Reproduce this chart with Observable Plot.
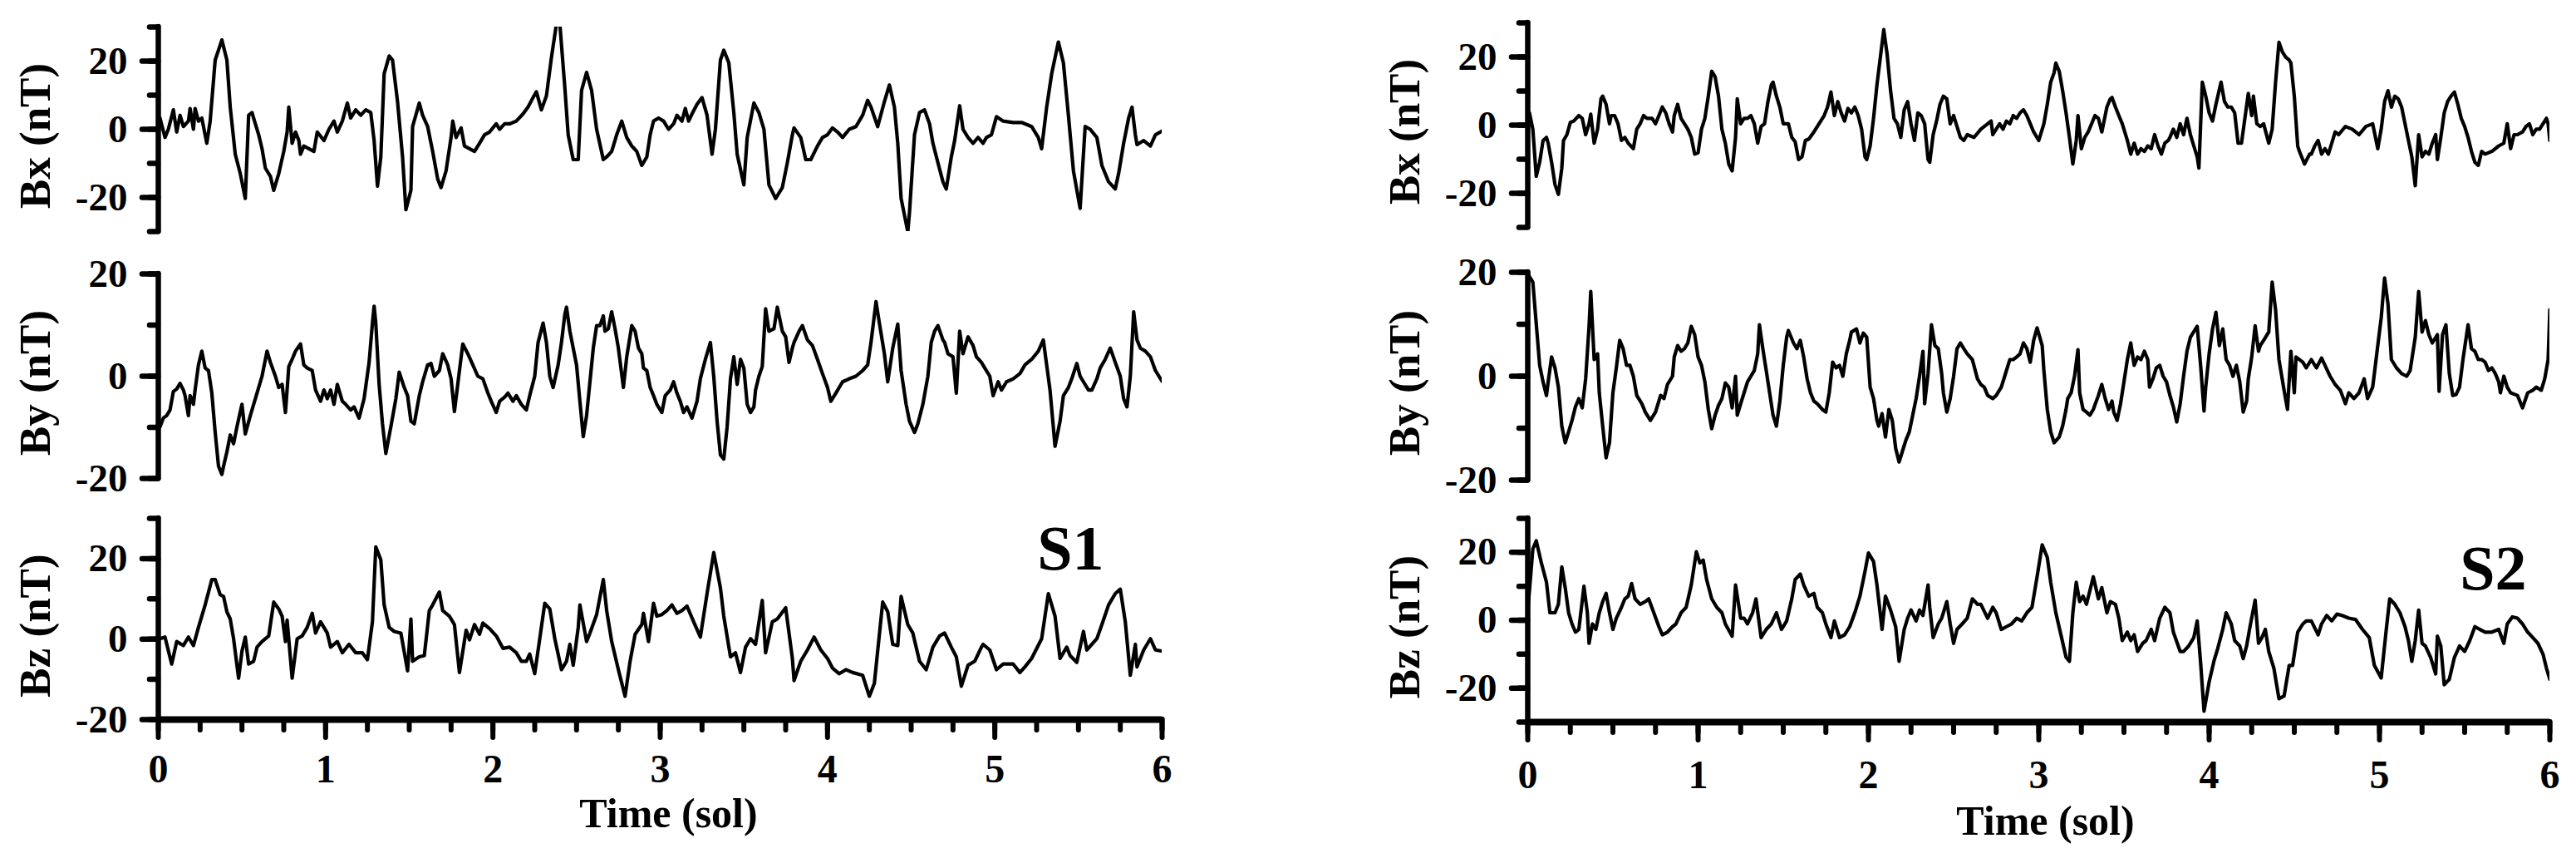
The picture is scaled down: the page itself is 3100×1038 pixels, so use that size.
<!DOCTYPE html>
<html><head><meta charset="utf-8">
<script src="https://cdn.jsdelivr.net/npm/d3@7"></script>
<script src="https://cdn.jsdelivr.net/npm/@observablehq/plot@0.6"></script>
<style>
html,body{margin:0;padding:0;background:#fff;}
#wrap{position:relative;width:3100px;height:1038px;overflow:hidden;background:#fff;}
.pn{position:absolute;}
</style></head><body><div id="wrap"></div>
<script>
// ---- data: [time (sol), field (nT)] ----
const s1Bx = [[0.01,3.3],[0.04,-2.4],[0.06,0],[0.09,5.7],[0.11,-0.8],[0.13,4.1],[0.15,0.8],[0.18,2.4],[0.19,6.1],[0.21,0],[0.22,6.1],[0.24,2.4],[0.26,3.3],[0.29,-4.1],[0.31,2.4],[0.34,20.3],[0.38,26.2],[0.41,20.3],[0.43,6.5],[0.46,-7.3],[0.49,-13],[0.52,-20.3],[0.54,4.1],[0.56,4.9],[0.58,1.6],[0.60,-1.6],[0.62,-5.7],[0.64,-11.4],[0.67,-13.8],[0.69,-17.9],[0.72,-13],[0.75,-6.5],[0.77,-0.8],[0.78,6.5],[0.80,-4.1],[0.82,-0.8],[0.84,-3.3],[0.85,-7.3],[0.87,-4.9],[0.90,-5.7],[0.93,-6.5],[0.95,-0.8],[0.99,-3.3],[1.02,0],[1.05,2.4],[1.07,-0.8],[1.10,2.4],[1.13,7.7],[1.15,3.3],[1.18,5.7],[1.21,4.1],[1.24,5.7],[1.27,4.9],[1.29,-3.3],[1.31,-16.7],[1.33,-8.1],[1.35,16.3],[1.38,21.5],[1.40,20.3],[1.43,8.1],[1.46,-8.1],[1.48,-23.6],[1.51,-17.9],[1.52,0.8],[1.56,7.7],[1.58,4.1],[1.61,0.8],[1.64,-6.5],[1.67,-14.6],[1.69,-17.1],[1.72,-12.2],[1.75,-2.4],[1.76,2.4],[1.78,-2.4],[1.81,0.4],[1.83,-4.9],[1.86,-5.7],[1.89,-6.5],[1.92,-4.1],[1.95,-1.6],[1.98,-0.8],[2.02,1.6],[2.04,0],[2.07,1.6],[2.10,1.6],[2.14,2.4],[2.18,4.5],[2.21,6.5],[2.24,9.3],[2.26,11],[2.29,5.7],[2.32,9.8],[2.35,21.1],[2.38,31],[2.40,31],[2.43,12.2],[2.45,-1.6],[2.48,-8.9],[2.51,-8.9],[2.53,11.4],[2.56,16.7],[2.59,11.4],[2.62,0],[2.66,-8.9],[2.68,-8.1],[2.71,-6.5],[2.74,-1.6],[2.77,2.4],[2.80,-2.4],[2.83,-4.9],[2.86,-6.5],[2.89,-10.6],[2.92,-8.1],[2.94,-1.6],[2.96,2.4],[2.99,3.3],[3.02,2.4],[3.05,0],[3.08,1.6],[3.10,4.1],[3.13,2.4],[3.15,6.1],[3.17,2.4],[3.19,4.5],[3.22,7.3],[3.25,9.3],[3.28,4.1],[3.31,-7.3],[3.33,0],[3.36,20.3],[3.38,23.2],[3.41,19.5],[3.44,4.9],[3.46,-7.3],[3.50,-16.3],[3.52,-2.4],[3.56,7.7],[3.59,4.9],[3.62,0],[3.65,-16.3],[3.69,-20.3],[3.73,-17.1],[3.76,-9.8],[3.79,-1.6],[3.80,0.4],[3.84,-2.4],[3.87,-8.9],[3.90,-8.9],[3.94,-4.9],[3.97,-2.4],[4.00,-1.6],[4.03,0.4],[4.06,-0.8],[4.09,-2.4],[4.13,0],[4.17,0.8],[4.21,4.1],[4.24,8.5],[4.26,6.5],[4.30,0.8],[4.34,8.1],[4.37,13],[4.40,6.5],[4.42,-4.1],[4.44,-20.3],[4.48,-30.1],[4.49,-24.4],[4.52,-1.6],[4.55,4.9],[4.58,5.7],[4.61,1.6],[4.63,-4.1],[4.66,-9.8],[4.69,-15.4],[4.71,-17.5],[4.74,-8.1],[4.76,-3.3],[4.79,6.9],[4.81,0],[4.84,-2.4],[4.87,-4.1],[4.90,-2.4],[4.93,-4.1],[4.95,-2.4],[4.98,-1.6],[5.01,3.7],[5.05,2.4],[5.11,2],[5.16,2],[5.22,0.8],[5.26,-2.4],[5.28,-5.7],[5.31,6.5],[5.34,16.3],[5.38,25.6],[5.41,19.5],[5.44,4.1],[5.47,-12.2],[5.51,-23.2],[5.54,0.8],[5.57,0],[5.61,-2.4],[5.64,-10.6],[5.68,-15.4],[5.72,-17.5],[5.74,-13],[5.77,-4.1],[5.80,3.3],[5.82,6.5],[5.84,-1.6],[5.85,-4.5],[5.89,-3.3],[5.93,-4.9],[5.96,-1.6],[6.0,-0.5]];

const s1By = [[0.01,-9.9],[0.03,-8.2],[0.05,-7.7],[0.07,-6.6],[0.09,-3.0],[0.11,-2.5],[0.13,-1.4],[0.15,-2.7],[0.16,-3.8],[0.18,-7.7],[0.19,-3.8],[0.21,-5.5],[0.22,-2.7],[0.24,2.2],[0.26,4.9],[0.28,1.6],[0.30,1.1],[0.32,-3.3],[0.34,-11],[0.36,-17.6],[0.38,-19.2],[0.39,-17.6],[0.41,-14.8],[0.43,-11.5],[0.45,-13.2],[0.47,-9.9],[0.50,-5.5],[0.52,-11.3],[0.55,-7.7],[0.57,-5.5],[0.59,-3.3],[0.62,0],[0.65,4.9],[0.67,2.7],[0.70,0],[0.72,-2.2],[0.74,-1.6],[0.76,-7.1],[0.78,1.9],[0.80,3.3],[0.82,4.9],[0.85,6.3],[0.87,2.2],[0.89,1.6],[0.92,1.1],[0.94,-2.7],[0.97,-4.9],[0.99,-2.7],[1.01,-4.4],[1.03,-2.7],[1.05,-5.5],[1.07,-1.6],[1.10,-4.9],[1.12,-5.5],[1.15,-6.6],[1.17,-6.0],[1.20,-8.2],[1.23,-4.4],[1.26,2.7],[1.28,10.4],[1.29,13.7],[1.30,10.4],[1.32,-1.6],[1.34,-9.3],[1.36,-15.1],[1.39,-9.9],[1.42,-4.4],[1.44,0.8],[1.47,-2.2],[1.49,-3.8],[1.51,-8.8],[1.53,-9.3],[1.56,-3.8],[1.58,-1.1],[1.61,2.2],[1.63,2.5],[1.65,0],[1.68,1.1],[1.70,4.4],[1.73,2.2],[1.75,-0.5],[1.77,-6.9],[1.80,1.1],[1.82,6.3],[1.85,4.4],[1.88,2.2],[1.91,0],[1.94,-0.5],[1.97,-3.3],[1.99,-4.9],[2.02,-7.1],[2.04,-4.9],[2.07,-4.1],[2.09,-3.3],[2.12,-4.9],[2.14,-3.8],[2.17,-5.5],[2.20,-6.6],[2.22,-3.8],[2.25,0],[2.27,6.6],[2.30,10.4],[2.32,6.6],[2.34,0],[2.36,-2.2],[2.39,2.2],[2.41,6.6],[2.43,12.1],[2.44,13.5],[2.46,8.8],[2.48,5.5],[2.50,2.2],[2.52,-4.9],[2.54,-11.8],[2.56,-7.7],[2.58,-1.1],[2.60,5.5],[2.62,9.9],[2.64,9.9],[2.66,11.8],[2.67,8.8],[2.69,9.3],[2.71,12.6],[2.73,9.3],[2.75,5.5],[2.78,-2.2],[2.80,3.8],[2.83,9.9],[2.85,8.8],[2.87,5.5],[2.89,4.4],[2.90,1.6],[2.92,1.1],[2.94,-2.2],[2.96,-3.8],[2.98,-5.5],[3.01,-7.1],[3.03,-3.8],[3.06,-2.7],[3.08,-1.1],[3.10,-3.3],[3.12,-4.9],[3.14,-7.1],[3.16,-6.0],[3.19,-8.2],[3.22,-4.9],[3.24,-0.5],[3.27,3.3],[3.30,6.6],[3.32,0],[3.34,-8.8],[3.36,-15.4],[3.38,-16.2],[3.40,-9.9],[3.42,-0.5],[3.44,3.8],[3.46,-1.6],[3.48,3.3],[3.50,1.6],[3.52,-5.5],[3.54,-7.1],[3.56,-6.0],[3.57,-2.7],[3.59,0],[3.61,1.9],[3.63,13.2],[3.65,8.8],[3.68,9.3],[3.70,13.5],[3.73,8.8],[3.75,7.7],[3.77,2.7],[3.79,5.5],[3.80,6.6],[3.83,8.8],[3.85,9.9],[3.88,7.1],[3.91,6.0],[3.94,3.3],[3.97,0.5],[4.00,-2.2],[4.02,-4.9],[4.05,-3.3],[4.07,-2.2],[4.09,-1.1],[4.13,-0.5],[4.17,0],[4.21,1.1],[4.24,2.2],[4.26,6.6],[4.29,14.6],[4.31,10.4],[4.34,4.4],[4.36,-1.1],[4.39,5.5],[4.42,10.2],[4.44,1.1],[4.47,-5.5],[4.49,-8.8],[4.52,-11],[4.54,-9.3],[4.57,-5.5],[4.60,0],[4.62,6.6],[4.64,8.8],[4.66,9.9],[4.69,7.1],[4.70,6.6],[4.72,4.4],[4.75,3.8],[4.77,-3.3],[4.79,8.8],[4.81,4.4],[4.84,7.7],[4.87,6.0],[4.89,3.8],[4.92,2.7],[4.94,1.6],[4.97,0],[4.99,-3.8],[5.02,-1.1],[5.04,-2.7],[5.07,-1.1],[5.11,-0.5],[5.15,0.5],[5.18,2.2],[5.22,3.3],[5.26,4.9],[5.29,7.1],[5.31,2.2],[5.33,-2.7],[5.36,-13.7],[5.39,-8.8],[5.41,-3.8],[5.44,-2.2],[5.46,-0.5],[5.49,2.5],[5.51,0],[5.53,-1.1],[5.56,-2.7],[5.58,-2.7],[5.61,-0.5],[5.63,1.6],[5.66,3.3],[5.69,5.5],[5.72,2.7],[5.75,0],[5.77,-4.4],[5.79,-6.0],[5.81,0],[5.83,12.6],[5.85,7.1],[5.87,5.5],[5.90,4.9],[5.93,3.8],[5.96,1.1],[6.0,-1]];

const s1Bz = [[0.01,0.1],[0.04,0.5],[0.08,-6.2],[0.11,-0.6],[0.15,-1.6],[0.18,0.5],[0.21,-1.6],[0.24,2.9],[0.28,8.5],[0.32,14.8],[0.34,14.8],[0.37,11.0],[0.39,10.6],[0.41,6.8],[0.43,5.0],[0.45,0.1],[0.48,-9.7],[0.50,-3.0],[0.52,0.5],[0.54,-6.2],[0.57,-5.5],[0.59,-2.0],[0.62,-0.6],[0.66,0.8],[0.69,9.2],[0.72,7.5],[0.74,5.7],[0.76,-0.6],[0.77,4.7],[0.80,-9.7],[0.83,0.1],[0.86,0.8],[0.89,2.9],[0.92,6.4],[0.94,1.5],[0.97,4.3],[1.01,1.5],[1.03,-2.0],[1.07,-0.6],[1.10,-3.4],[1.14,-1.3],[1.18,-3.4],[1.22,-3.4],[1.25,-5.1],[1.28,4.3],[1.30,22.9],[1.33,19.7],[1.35,8.5],[1.38,2.9],[1.41,1.9],[1.45,1.5],[1.49,-7.9],[1.51,5.0],[1.52,-5.5],[1.56,-4.4],[1.59,-4.1],[1.62,7.1],[1.64,8.5],[1.68,11.7],[1.70,7.1],[1.74,5.7],[1.77,3.6],[1.80,-8.3],[1.84,2.2],[1.86,-0.2],[1.89,3.6],[1.92,1.2],[1.94,4.0],[1.98,2.6],[2.02,0.8],[2.06,-2.3],[2.10,-2.0],[2.14,-3.4],[2.17,-5.5],[2.20,-5.5],[2.22,-3.7],[2.25,-8.6],[2.28,0.1],[2.31,8.9],[2.34,7.5],[2.37,0.1],[2.41,-7.6],[2.44,-5.5],[2.46,-1.3],[2.48,-6.5],[2.51,2.9],[2.52,8.5],[2.56,-0.6],[2.58,1.5],[2.62,6.1],[2.66,14.8],[2.68,7.1],[2.71,-0.6],[2.75,-7.6],[2.79,-14.2],[2.82,-5.5],[2.85,1.2],[2.89,3.6],[2.90,6.4],[2.93,-0.6],[2.96,8.9],[2.98,5.7],[3.01,6.1],[3.04,7.1],[3.07,8.5],[3.10,6.4],[3.13,7.1],[3.16,8.2],[3.20,4.3],[3.24,0.5],[3.28,11.3],[3.32,21.5],[3.36,12.7],[3.38,5.7],[3.42,-4.4],[3.45,-3.4],[3.48,-8.3],[3.51,-2.0],[3.54,0.1],[3.57,-1.3],[3.61,9.6],[3.63,-3.4],[3.67,4.3],[3.70,5.0],[3.75,7.8],[3.79,-4.8],[3.80,-10.3],[3.84,-5.5],[3.88,-2.7],[3.92,0.5],[3.96,-2.7],[4.00,-4.8],[4.03,-7.2],[4.07,-8.6],[4.11,-7.6],[4.15,-8.3],[4.21,-9.0],[4.25,-14.2],[4.28,-11.0],[4.33,9.2],[4.36,6.8],[4.39,-1.3],[4.42,-1.6],[4.44,10.6],[4.48,3.6],[4.51,1.5],[4.55,-5.5],[4.59,-7.6],[4.63,-2.0],[4.67,0.8],[4.70,1.5],[4.74,-2.0],[4.77,-4.4],[4.80,-11.7],[4.84,-6.5],[4.88,-5.5],[4.92,-2.0],[4.93,-1.3],[4.97,-2.7],[5.01,-7.6],[5.05,-6.2],[5.11,-6.2],[5.15,-8.3],[5.18,-6.9],[5.22,-4.8],[5.28,0.1],[5.32,11.3],[5.36,5.7],[5.39,-4.8],[5.43,-2.0],[5.45,-4.1],[5.49,-5.8],[5.53,1.9],[5.55,-2.7],[5.61,0.1],[5.64,3.6],[5.68,8.5],[5.72,11.3],[5.75,12.4],[5.78,4.3],[5.81,-9.0],[5.84,-1.3],[5.85,-6.9],[5.89,-2.7],[5.93,0.1],[5.96,-2.7],[6.0,-3]];

const s2Bx = [[0.01,3.6],[0.03,-1.2],[0.05,-15],[0.07,-10.9],[0.09,-4.5],[0.11,-3.6],[0.12,-5.3],[0.14,-10.9],[0.16,-17.4],[0.18,-20.3],[0.20,-12.6],[0.21,-4.5],[0.23,-2.8],[0.25,0.8],[0.27,1.2],[0.30,2.8],[0.32,2],[0.34,-2.8],[0.36,0.4],[0.37,3.2],[0.39,-5.3],[0.41,-1.2],[0.43,7.7],[0.44,8.5],[0.46,6.1],[0.48,0.4],[0.49,2.8],[0.51,2.8],[0.53,0.4],[0.55,-4.5],[0.57,-3.6],[0.59,-5.3],[0.62,-6.9],[0.64,-1.2],[0.66,0.4],[0.68,2.8],[0.70,2],[0.73,2],[0.75,0.4],[0.77,2.8],[0.79,5.3],[0.81,3.6],[0.83,0.4],[0.85,-2],[0.86,2.8],[0.88,6.1],[0.90,2],[0.92,0.4],[0.94,-1.2],[0.96,-3.6],[0.98,-8.5],[1.00,-8.1],[1.02,-1.2],[1.04,2],[1.06,8.5],[1.08,15.8],[1.10,14.2],[1.12,8.5],[1.14,-1.2],[1.16,-5.3],[1.18,-11.4],[1.20,-13.4],[1.22,-3.6],[1.23,7.7],[1.25,0.4],[1.27,2],[1.29,2],[1.31,2.8],[1.33,0.4],[1.35,-5.3],[1.37,-0.4],[1.39,0.4],[1.41,6.9],[1.43,11.8],[1.44,12.6],[1.46,8.5],[1.48,5.3],[1.50,0.4],[1.53,0.4],[1.55,-3.6],[1.57,-4.9],[1.59,-10.1],[1.61,-9.3],[1.63,-4.5],[1.65,-4.1],[1.68,-2],[1.71,0.4],[1.74,2.8],[1.76,5.3],[1.78,9.7],[1.80,2.8],[1.82,6.9],[1.84,3.6],[1.86,1.2],[1.88,4.9],[1.90,3.6],[1.92,5.3],[1.94,2.8],[1.96,-1.2],[1.98,-9.3],[1.99,-10.1],[2.01,-6.1],[2.03,2],[2.05,11.8],[2.07,19.9],[2.09,28],[2.11,20.7],[2.13,10.1],[2.15,2],[2.17,0.4],[2.19,-3.6],[2.21,4.5],[2.23,6.9],[2.25,0.4],[2.27,-4.5],[2.29,3.6],[2.31,2.8],[2.33,0.4],[2.35,-10.1],[2.36,-10.9],[2.38,-2.8],[2.40,1.2],[2.42,6.1],[2.44,8.5],[2.46,7.7],[2.48,0.4],[2.50,2.8],[2.52,-0.4],[2.54,-3.6],[2.56,-4.5],[2.58,-2.8],[2.62,-3.6],[2.66,-1.2],[2.70,0.4],[2.72,1.2],[2.73,-2.8],[2.75,-1.2],[2.77,0.4],[2.79,-1.2],[2.81,1.2],[2.83,0.4],[2.85,2.8],[2.87,2],[2.89,3.6],[2.91,4.5],[2.93,2.8],[2.95,0.4],[2.97,-2],[3.00,-4.5],[3.03,0.4],[3.05,6.1],[3.07,12.6],[3.09,15.4],[3.10,18.2],[3.12,15.8],[3.14,10.1],[3.16,3.6],[3.18,-3.6],[3.20,-11.4],[3.22,-4.5],[3.23,2.8],[3.25,-6.9],[3.27,-3.6],[3.29,-2],[3.31,0.4],[3.33,2.8],[3.35,2],[3.37,-2],[3.38,0.4],[3.40,5.3],[3.42,7.7],[3.43,8.1],[3.45,5.3],[3.47,2.8],[3.49,0.4],[3.52,-4.5],[3.54,-8.5],[3.56,-5.3],[3.58,-8.5],[3.60,-6.9],[3.62,-7.7],[3.64,-6.1],[3.66,-6.9],[3.68,-2.8],[3.70,-6.1],[3.72,-8.5],[3.74,-5.3],[3.76,-4.5],[3.77,-3.6],[3.79,-1.2],[3.81,-3.6],[3.83,0.4],[3.85,-2.8],[3.87,2],[3.89,-2.8],[3.91,-6.1],[3.93,-9.3],[3.94,-12.6],[3.96,12.6],[3.98,8.5],[4.00,3.6],[4.02,1.2],[4.04,6.1],[4.07,12.6],[4.09,6.9],[4.11,5.3],[4.13,5.3],[4.15,3.6],[4.17,-5.3],[4.19,-5.3],[4.21,2],[4.23,9.3],[4.25,2.8],[4.26,8.5],[4.28,0.4],[4.30,-0.4],[4.32,0.4],[4.35,-5.3],[4.37,-1.2],[4.39,12.6],[4.41,24.3],[4.43,21.5],[4.45,19.9],[4.47,19.1],[4.48,18.2],[4.50,8.5],[4.52,-6.1],[4.53,-7.7],[4.56,-11.4],[4.59,-8.5],[4.60,-8.5],[4.62,-6.1],[4.64,-4.5],[4.66,-8.5],[4.68,-6.9],[4.70,-8.5],[4.72,-5.3],[4.74,-2],[4.76,-2.8],[4.80,-0.4],[4.84,-1.2],[4.88,-2.8],[4.92,-0.4],[4.96,0.4],[4.97,-2],[4.99,-6.9],[5.01,-1.2],[5.03,6.9],[5.05,10.1],[5.07,5.3],[5.09,8.5],[5.11,7.7],[5.13,5.3],[5.15,0.4],[5.17,-4.5],[5.19,-9.3],[5.21,-17.8],[5.23,-2.8],[5.25,-9.3],[5.27,-7.7],[5.29,-8.5],[5.31,-5.3],[5.33,-2.8],[5.34,-10.1],[5.36,-3.6],[5.38,3.6],[5.40,6.9],[5.42,8.5],[5.44,9.7],[5.46,6.1],[5.48,2],[5.50,-0.4],[5.52,-3.6],[5.54,-7.7],[5.56,-10.9],[5.58,-11.8],[5.60,-7.7],[5.62,-8.5],[5.66,-7.7],[5.70,-6.1],[5.73,-5.3],[5.75,0.4],[5.77,-6.9],[5.79,-2.8],[5.81,-2.8],[5.84,-2],[5.86,-0.4],[5.88,0.4],[5.90,-2.8],[5.92,-1.2],[5.94,-1.2],[5.96,0.4],[5.98,2],[5.99,0.4],[6.0,-4.5]];

const s2By = [[0.00,19.7],[0.03,18.1],[0.05,10.1],[0.07,2.1],[0.09,-1.1],[0.11,-3.7],[0.12,-1.1],[0.14,3.7],[0.16,1.6],[0.18,-2.1],[0.20,-9.6],[0.22,-12.8],[0.24,-10.7],[0.26,-8.5],[0.28,-5.9],[0.30,-4.3],[0.32,-6.1],[0.34,-0.5],[0.36,9.6],[0.37,16.3],[0.39,3.2],[0.41,4.3],[0.42,-3.2],[0.44,-9.6],[0.46,-15.7],[0.48,-12.8],[0.50,-3.2],[0.52,1.6],[0.54,6.9],[0.56,5.3],[0.58,2.1],[0.60,2.1],[0.62,0],[0.64,-3.7],[0.67,-5.3],[0.69,-6.9],[0.72,-8.5],[0.75,-6.9],[0.78,-3.7],[0.80,-4.3],[0.82,-1.6],[0.85,0],[0.86,3.7],[0.88,5.9],[0.90,4.8],[0.92,5.3],[0.94,6.4],[0.96,9.6],[0.98,8],[1.00,3.7],[1.02,2.1],[1.04,-1.1],[1.06,-6.4],[1.08,-10.1],[1.10,-7.5],[1.12,-5.6],[1.14,-4.3],[1.16,-1.3],[1.18,-2.1],[1.20,-6.1],[1.22,0],[1.23,-7.5],[1.25,-5.3],[1.27,-3.2],[1.29,-1.1],[1.31,0],[1.33,1.1],[1.35,4.3],[1.36,9.9],[1.38,5.3],[1.40,1.1],[1.42,-3.2],[1.44,-7.5],[1.46,-9.6],[1.48,-4.8],[1.50,2.1],[1.52,7.5],[1.53,8.8],[1.56,6.4],[1.58,5.3],[1.60,6.9],[1.62,3.7],[1.64,-0.5],[1.66,-3.2],[1.68,-4.8],[1.70,-5.3],[1.73,-6.4],[1.75,-6.9],[1.77,-3.2],[1.79,2.7],[1.81,1.6],[1.83,2.1],[1.85,0],[1.87,4.3],[1.89,6.9],[1.90,8.5],[1.93,9.1],[1.95,6.4],[1.97,8.3],[1.99,7.5],[2.01,-2.1],[2.03,-4.3],[2.05,-8.5],[2.06,-9.6],[2.08,-7.2],[2.10,-11.7],[2.12,-6.4],[2.14,-8.5],[2.16,-13.9],[2.18,-16.5],[2.20,-14.4],[2.22,-12.3],[2.24,-10.7],[2.26,-7.5],[2.28,-4.3],[2.30,0],[2.32,4.8],[2.33,-5.3],[2.35,0.5],[2.37,9.9],[2.39,5.9],[2.41,5.3],[2.43,0.5],[2.44,-3.2],[2.46,-6.9],[2.48,-4.3],[2.50,0],[2.52,5.3],[2.54,6.4],[2.56,5.3],[2.58,4.3],[2.61,3.2],[2.64,-0.5],[2.66,-1.6],[2.68,-2.1],[2.70,-3.7],[2.73,-4.3],[2.75,-3.7],[2.78,-2.1],[2.80,0],[2.83,3.2],[2.85,3.2],[2.87,3.7],[2.89,4.3],[2.91,6.4],[2.93,5.3],[2.95,2.7],[2.97,6.9],[2.99,9.3],[3.02,5.9],[3.03,1.1],[3.05,-6.4],[3.07,-10.7],[3.09,-12.8],[3.12,-11.7],[3.14,-9.6],[3.16,-6.4],[3.17,-4.3],[3.19,-3.2],[3.21,0],[3.23,5.1],[3.24,-3.2],[3.26,-6.4],[3.28,-6.9],[3.30,-7.5],[3.32,-6.4],[3.35,-3.7],[3.37,-1.6],[3.39,-4.3],[3.41,-6.4],[3.43,-4.8],[3.44,-6.9],[3.46,-8.5],[3.48,-5.3],[3.50,-1.1],[3.52,3.2],[3.54,6.4],[3.56,2.1],[3.58,3.7],[3.60,3.2],[3.62,4.8],[3.64,3.2],[3.65,-2.1],[3.67,-0.5],[3.69,1.6],[3.71,2.1],[3.73,0],[3.75,-1.1],[3.77,-3.7],[3.79,-5.9],[3.81,-8.8],[3.83,-5.3],[3.85,0],[3.87,4.8],[3.89,7.5],[3.92,9.1],[3.93,9.6],[3.95,2.1],[3.97,-6.7],[3.98,-2.1],[4.00,4.3],[4.02,9.1],[4.04,12.3],[4.06,5.9],[4.08,9.1],[4.10,3.2],[4.12,2.1],[4.14,0],[4.16,2.1],[4.18,-1.1],[4.20,-6.9],[4.22,-4.8],[4.23,-0.5],[4.25,3.7],[4.27,9.7],[4.29,4.8],[4.30,5.9],[4.32,6.9],[4.35,8.5],[4.37,18.1],[4.39,12.8],[4.41,3.2],[4.44,-2.7],[4.46,-6.4],[4.48,4.8],[4.50,-3.2],[4.51,3.7],[4.55,2.7],[4.57,1.6],[4.60,3.2],[4.63,1.6],[4.66,3.5],[4.68,2.1],[4.71,0],[4.74,-1.6],[4.77,-2.7],[4.80,-5.3],[4.82,-3.2],[4.85,-4.3],[4.88,-3.2],[4.91,-0.5],[4.93,-4.3],[4.96,-2.1],[4.97,0.5],[4.99,5.9],[5.01,11.2],[5.03,18.9],[5.05,13.9],[5.07,3.2],[5.10,1.6],[5.13,0.5],[5.16,0],[5.18,1.1],[5.21,7.5],[5.23,16.3],[5.25,8.5],[5.27,10.7],[5.29,8],[5.31,6.4],[5.34,8],[5.35,-2.9],[5.37,8],[5.39,9.9],[5.41,0.5],[5.43,-3.7],[5.45,-3.5],[5.47,-2.1],[5.49,3.2],[5.52,9.9],[5.54,5.3],[5.56,4.8],[5.58,3.2],[5.60,3.2],[5.62,2.7],[5.64,1.1],[5.66,1.6],[5.68,0.5],[5.70,-1.1],[5.71,-3.2],[5.73,0],[5.75,-2.1],[5.77,-3.2],[5.81,-3.7],[5.84,-6.1],[5.87,-3.2],[5.90,-2.7],[5.92,-2.1],[5.95,-2.7],[5.97,-0.5],[5.99,3.2],[6.00,12.8]];

const s2Bz = [[0.00,3],[0.01,8.7],[0.03,21],[0.05,23.4],[0.08,16.9],[0.11,11.2],[0.13,2.2],[0.16,2.2],[0.18,4.7],[0.20,15.7],[0.22,9.6],[0.24,2.2],[0.26,-1.1],[0.28,-3.5],[0.30,-2.7],[0.33,10],[0.35,2.2],[0.36,-6.8],[0.38,-1.1],[0.40,-2.7],[0.42,2.2],[0.44,5.5],[0.46,7.9],[0.48,2.2],[0.50,-2.7],[0.52,0.6],[0.55,3.8],[0.57,6.3],[0.59,7.1],[0.61,10.8],[0.63,6.3],[0.66,4.7],[0.69,5.5],[0.71,6.3],[0.74,2.2],[0.77,-1.9],[0.79,-4.3],[0.82,-3.5],[0.85,-1.9],[0.87,-1.1],[0.90,2.2],[0.93,3.8],[0.96,10.4],[0.99,20.2],[1.01,16.9],[1.03,17.7],[1.05,12],[1.08,6.3],[1.11,3.8],[1.14,2.2],[1.16,-1.1],[1.20,-4.7],[1.22,10.4],[1.25,0.6],[1.27,0.6],[1.29,-1.1],[1.32,2.2],[1.34,6.3],[1.37,-5.1],[1.40,-2.7],[1.43,-1.1],[1.46,2.2],[1.49,-2.7],[1.52,-0.2],[1.55,6.3],[1.57,12],[1.60,13.6],[1.62,10.4],[1.65,7.1],[1.68,7.9],[1.70,3.8],[1.73,2.2],[1.75,-1.1],[1.78,-5.1],[1.80,-0.2],[1.83,-5.1],[1.86,-4.3],[1.89,-1.9],[1.92,2.2],[1.95,7.1],[1.98,14.4],[2.00,19.8],[2.03,17.3],[2.05,10.4],[2.08,-2.7],[2.10,7.1],[2.13,3],[2.16,-1.9],[2.18,-12.1],[2.21,-2.7],[2.23,0.6],[2.25,3],[2.28,-0.2],[2.30,3],[2.32,1.4],[2.35,10.4],[2.36,3.8],[2.38,-5.1],[2.41,-1.1],[2.43,0.6],[2.46,5.5],[2.48,-1.1],[2.50,-6.8],[2.52,-2.7],[2.55,-1.1],[2.58,0.6],[2.61,6.3],[2.64,4.7],[2.66,4.7],[2.70,0.6],[2.73,3.8],[2.75,2.2],[2.78,-2.7],[2.81,-1.9],[2.84,-1.1],[2.87,0.6],[2.90,-0.2],[2.93,2.2],[2.96,3.8],[2.99,12.8],[3.02,22.2],[3.05,18.5],[3.07,11.2],[3.10,2.2],[3.13,-4.3],[3.16,-10.9],[3.18,-12.1],[3.20,2.2],[3.22,11.2],[3.24,5.5],[3.26,7.1],[3.28,4.7],[3.30,8.7],[3.32,12.8],[3.35,6.3],[3.37,9.6],[3.40,2.2],[3.42,5.5],[3.45,4.7],[3.47,0.6],[3.49,-6],[3.52,-3.5],[3.54,-6],[3.56,-4.3],[3.58,-9.2],[3.61,-6.8],[3.63,-6],[3.66,-2.7],[3.68,-6],[3.71,0.6],[3.74,3.8],[3.77,2.2],[3.79,-3.5],[3.83,-9.2],[3.85,-9.2],[3.88,-7.6],[3.91,-5.1],[3.93,-0.2],[3.95,-12.5],[3.97,-26.8],[4.00,-18.2],[4.03,-11.7],[4.05,-8.4],[4.08,-2.7],[4.10,2.2],[4.13,-1.1],[4.15,-6],[4.18,-7.6],[4.20,-11.3],[4.22,-7.6],[4.24,-1.9],[4.27,5.9],[4.29,-6.8],[4.31,-5.1],[4.33,-2.7],[4.35,-9.2],[4.38,-14.1],[4.41,-23.1],[4.44,-22.3],[4.47,-13.3],[4.49,-13.3],[4.52,-3.5],[4.55,-1.1],[4.57,-0.2],[4.60,-0.2],[4.64,-4.3],[4.66,-1.1],[4.69,1.4],[4.72,-0.2],[4.75,1.8],[4.78,1.4],[4.82,0.6],[4.86,0.2],[4.90,-2.7],[4.94,-5.1],[4.97,-13.3],[5.01,-17],[5.04,-2.7],[5.06,6.3],[5.09,4.7],[5.12,2.2],[5.15,-1.9],[5.17,-6],[5.19,-12.1],[5.21,-6],[5.23,3],[5.25,-6.8],[5.27,-7.6],[5.30,-10.9],[5.33,-15.8],[5.34,-4.7],[5.36,-7.6],[5.38,-19],[5.41,-17.4],[5.44,-10.9],[5.47,-7.6],[5.50,-9.2],[5.53,-6],[5.56,-1.9],[5.59,-2.7],[5.62,-3.5],[5.66,-3.5],[5.70,-2.7],[5.73,-6.8],[5.75,-1.1],[5.78,1],[5.81,0.6],[5.84,-1.1],[5.87,-3.5],[5.90,-5.1],[5.93,-6.8],[5.96,-10],[5.98,-14.1],[6.00,-17.4]];

// ---- ticks and labels ----
const timeTicks = [0, 1, 2, 3, 4, 5, 6];
const timeMinorTicks = [0,0.25,0.5,0.75,1,1.25,1.5,1.75,2,2.25,2.5,2.75,3,3.25,3.5,3.75,4,4.25,4.5,4.75,5,5.25,5.5,5.75,6];
const ticks60 = [-30, -20, -10, 0, 10, 20, 30];
const ticks40 = [-20, -10, 0, 10, 20];
const ticks50 = [-20, -10, 0, 10, 20, 30];
const labelTicks = [-20, 0, 20];
const yLabels = ["Bx (nT)", "By (nT)", "Bz (nT)"];
const timeLabel = "Time (sol)";
const sets = ["S1", "S2"];

const FONT = '"Liberation Serif", "Times New Roman", serif';

const panels = [
  {data: s1Bx, domain: [-30, 30], ticks: ticks60, ylabel: yLabels[0], left: 0, top: 20, width: 1550, mL: 190, mR: 152, mT: 12, mB: 12, frameH: 246},
  {data: s1By, domain: [-20, 20], ticks: ticks40, ylabel: yLabels[1], left: 0, top: 317, width: 1550, mL: 190, mR: 152, mT: 12, mB: 12, frameH: 246},
  {data: s1Bz, domain: [-20, 30], ticks: ticks50, ylabel: yLabels[2], left: 0, top: 611, width: 1550, mL: 190, mR: 152, mT: 12, mB: 160, frameH: 242, bottom: true, tag: sets[0], tagDx: -70, tagDy: 8, xPad: 19, titleDx: 10, titleDy: 94},
  {data: s2Bx, domain: [-30, 30], ticks: ticks60, ylabel: yLabels[0], left: 1550, top: 15, width: 1550, mL: 288, mR: 32, mT: 12, mB: 12, frameH: 246},
  {data: s2By, domain: [-20, 20], ticks: ticks40, ylabel: yLabels[1], left: 1550, top: 315, width: 1550, mL: 288, mR: 32, mT: 12, mB: 12, frameH: 250},
  {data: s2Bz, domain: [-30, 30], ticks: ticks60, ylabel: yLabels[2], left: 1550, top: 611, width: 1550, mL: 288, mR: 32, mT: 12, mB: 160, frameH: 245, bottom: true, tag: sets[1], tagDx: -28, tagDy: 32, xPad: 23, titleDx: 8, titleDy: 100}
];

const wrap = document.getElementById("wrap");
for (const p of panels) {
  const marks = [
    Plot.line(p.data, {x: d => d[0], y: d => d[1], stroke: "#000", strokeWidth: 4.2, strokeLinejoin: "round", clip: true}),
    Plot.ruleX([0], {stroke: "#000", strokeWidth: 6.5, strokeLinecap: "round"}),
    Plot.axisY(p.ticks, {anchor: "left", tickSize: 10, strokeWidth: 6.5, strokeLinecap: "round", tickFormat: () => "", label: null}),
    Plot.axisY(labelTicks, {anchor: "left", tickSize: 19, strokeWidth: 6.5, strokeLinecap: "round", tickPadding: 18, fontSize: 47, fontWeight: "bold", tickFormat: d => String(d), label: null}),
    Plot.text([p.ylabel], {text: d => d, frameAnchor: "left", textAnchor: "middle", lineAnchor: "middle", dx: -147, dy: 8, rotate: -90, fontSize: 53, fontWeight: "bold", fill: "#000"})
  ];
  if (p.bottom) {
    marks.push(
      Plot.ruleY([p.domain[0]], {stroke: "#000", strokeWidth: 8}),
      Plot.axisX(timeMinorTicks, {anchor: "bottom", tickSize: 13, strokeWidth: 6, strokeLinecap: "round", tickFormat: () => "", label: null}),
      Plot.axisX(timeTicks, {anchor: "bottom", tickSize: 22, strokeWidth: 6, strokeLinecap: "round", tickPadding: p.xPad, fontSize: 48, fontWeight: "bold", tickFormat: d => String(d), label: null}),
      Plot.text([timeLabel], {text: d => d, frameAnchor: "bottom", dx: p.titleDx, dy: p.titleDy, lineAnchor: "top", fontSize: 50, fontWeight: "bold", fill: "#000"}),
      Plot.text([p.tag], {text: d => d, frameAnchor: "top-right", textAnchor: "end", lineAnchor: "top", dx: p.tagDx, dy: p.tagDy, fontSize: 76, fontWeight: "bold", fill: "#000"})
    );
  }
  const svg = Plot.plot({
    width: p.width,
    height: p.mT + p.frameH + p.mB,
    marginLeft: p.mL, marginRight: p.mR, marginTop: p.mT, marginBottom: p.mB,
    style: {fontFamily: FONT, fontWeight: "bold", color: "#000", background: "transparent", overflow: "visible"},
    x: {domain: [0, 6], axis: null},
    y: {domain: p.domain, axis: null},
    marks
  });
  const holder = document.createElement("div");
  holder.className = "pn";
  holder.style.left = p.left + "px";
  holder.style.top = p.top + "px";
  holder.appendChild(svg);
  wrap.appendChild(holder);
}
</script>
</body></html>
